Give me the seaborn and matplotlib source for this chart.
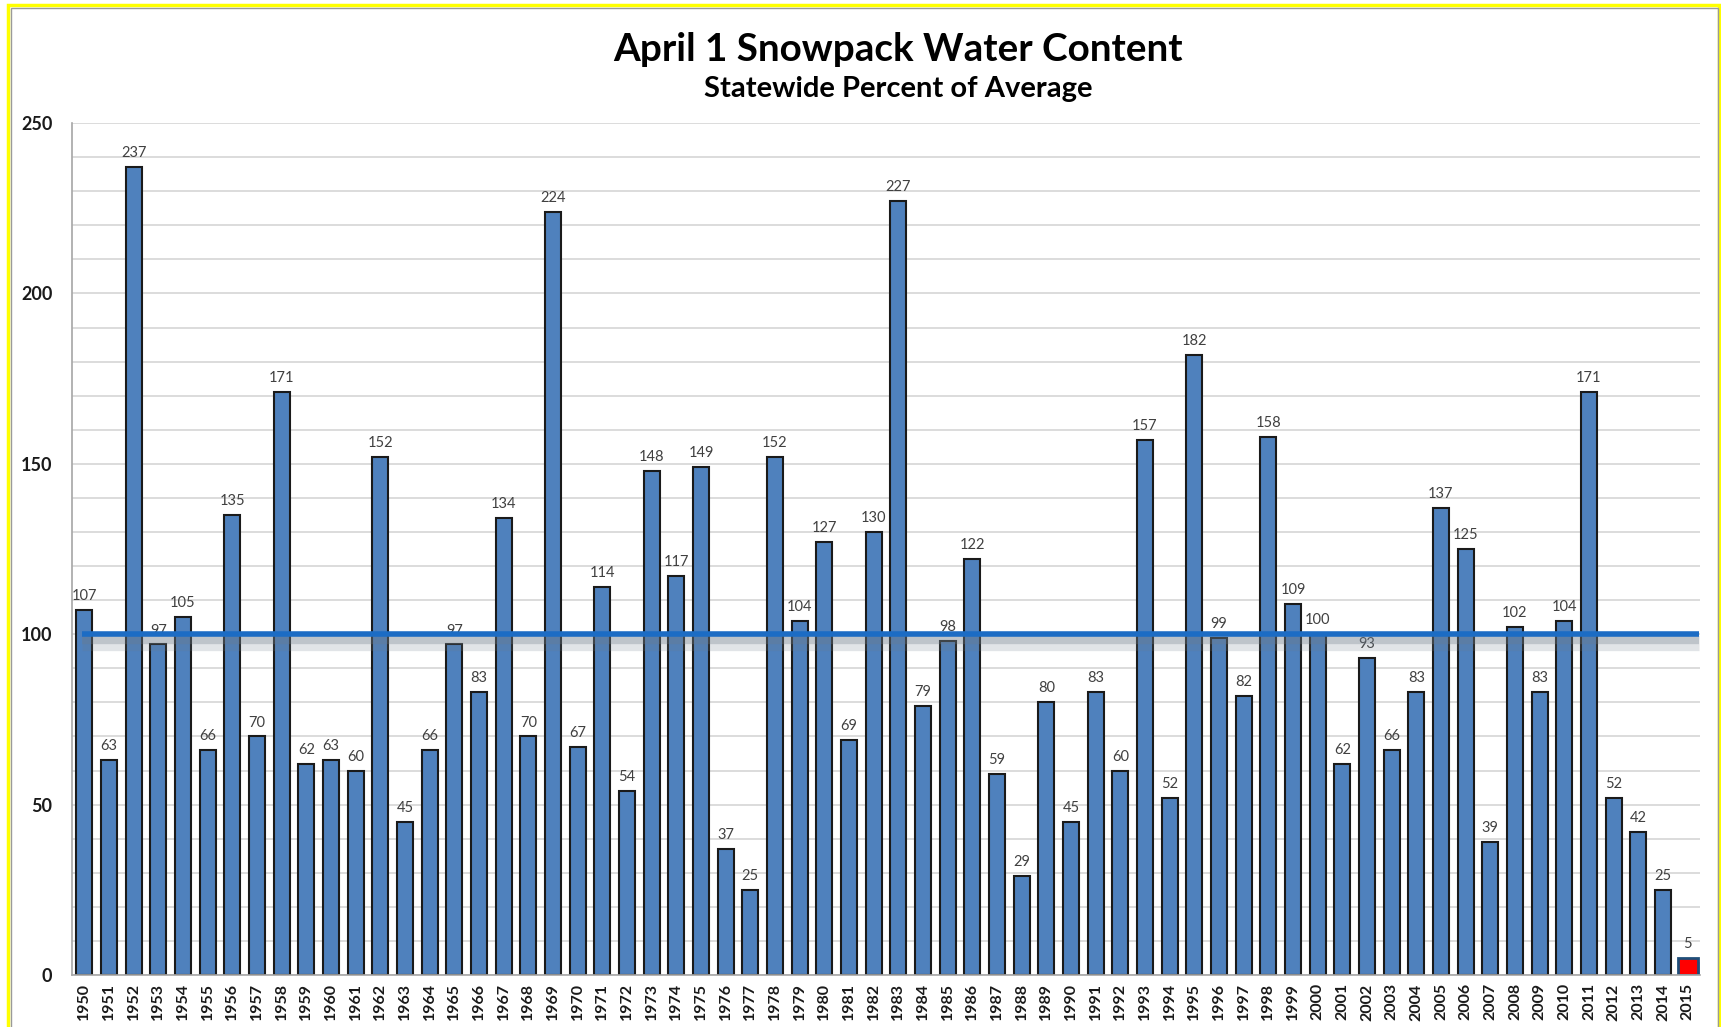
import matplotlib
matplotlib.use("Agg")
import matplotlib.pyplot as plt
import matplotlib.patheffects as pe
from matplotlib.ticker import MultipleLocator, FixedLocator
from matplotlib.patches import Rectangle
import seaborn as sns

# ─────────────────────────────────────────────
# DATA
# ─────────────────────────────────────────────
years = [str(y) for y in range(1950, 2016)]
percent = [107, 63, 237, 97, 105, 66, 135, 70, 171, 62,
           63, 60, 152, 45, 66, 97, 83, 134, 70, 224,
           67, 114, 54, 148, 117, 149, 37, 25, 152, 104,
           127, 69, 130, 227, 79, 98, 122, 59, 29, 80,
           45, 83, 60, 157, 52, 182, 99, 82, 158, 109,
           100, 62, 93, 66, 83, 137, 125, 39, 102, 83,
           104, 171, 52, 42, 25, 5]
average_line = 100
title = "April 1 Snowpack Water Content"
subtitle = "Statewide Percent of Average"

BAR_COLOR = "#4f81bd"
LINE_COLOR = "#1c6cc4"

# ─────────────────────────────────────────────
# PLOT
# ─────────────────────────────────────────────
sns.set_style("white")
plt.rcParams["font.family"] = ["Lato", "DejaVu Sans"]

fig = plt.figure(figsize=(17.21, 10.27), dpi=100)
ax = fig.add_axes([0.0418, 0.0506, 0.9460, 0.8296])

sns.barplot(x=years, y=percent, order=years, color=BAR_COLOR, saturation=1,
            width=0.65, edgecolor="#1a1a1a", linewidth=1.5, ax=ax)

# 2015 highlighted as a red square
last = ax.patches[len(years) - 1]
cx = last.get_x() + last.get_width() / 2
last.set_width(0.82)
last.set_x(cx - 0.41)
last.set_facecolor("#ff0000")
last.set_edgecolor("#1f4e79")
last.set_linewidth(2)
last.set_path_effects([pe.SimplePatchShadow(offset=(3, -3), shadow_rgbFace="#555555", alpha=0.35),
                       pe.Normal()])

for c in ax.containers:
    ax.bar_label(c, labels=[str(v) for v in percent], padding=5,
                 fontsize=10.5, color="#404040")

# average line with soft shadow
ax.plot([-0.1, len(years) - 0.55], [average_line, average_line], color=LINE_COLOR,
        lw=4, solid_capstyle="butt", zorder=5,
        path_effects=[pe.SimpleLineShadow(offset=(0, -6), shadow_color="#6d7a88", alpha=0.2, linewidth=11),
                      pe.SimpleLineShadow(offset=(0, -4), shadow_color="#6d7a88", alpha=0.3, linewidth=6),
                      pe.Normal()])

ax.set_xlim(-0.5, len(years) - 0.5)
ax.set_ylim(0, 250)
ax.yaxis.set_major_locator(MultipleLocator(50))
ax.yaxis.set_minor_locator(MultipleLocator(10))
ax.grid(axis="y", which="both", color="#d9d9d9", lw=1.3)
ax.set_axisbelow(True)

ax.xaxis.set_minor_locator(FixedLocator([i + 0.5 for i in range(-1, len(years))]))
ax.tick_params(axis="x", which="major", length=0, pad=6, rotation=90)
ax.tick_params(axis="x", which="minor", length=5, color="#a6a6a6", width=1)
ax.tick_params(axis="y", which="major", length=5, color="#a6a6a6", width=1, pad=9)
ax.tick_params(axis="y", which="minor", length=0)
for lab in ax.get_xticklabels():
    lab.set_fontweight("bold")
    lab.set_fontsize(11.5)
    lab.set_color("#1a1a1a")
for lab in ax.get_yticklabels():
    lab.set_fontweight("bold")
    lab.set_fontsize(13)
    lab.set_color("#1a1a1a")

ax.set_xlabel("")
ax.set_ylabel("")
sns.despine(ax=ax, top=True, right=True)
ax.spines["left"].set_color("#a6a6a6")
ax.spines["bottom"].set_color("#a6a6a6")
ax.spines["left"].set_linewidth(1.2)
ax.spines["bottom"].set_linewidth(1.2)

fig.text(0.522, 0.952, title, ha="center", va="center", fontsize=27.8, fontweight="bold", color="#000000")
fig.text(0.522, 0.913, subtitle, ha="center", va="center", fontsize=21, fontweight="bold", color="#000000")

# slide frame
fig.patches.append(Rectangle((8 / 1721, -0.05), (1719 - 8) / 1721, 1.05 - 5 / 1027,
                             transform=fig.transFigure, fill=False, edgecolor="#ffff00", lw=2.5))
fig.patches.append(Rectangle((11 / 1721, -0.05), (1718 - 11) / 1721, 1.05 - 8 / 1027,
                             transform=fig.transFigure, fill=False, edgecolor="#9a9a9a", lw=1))

fig.savefig("out.png", dpi=100, facecolor="white")
